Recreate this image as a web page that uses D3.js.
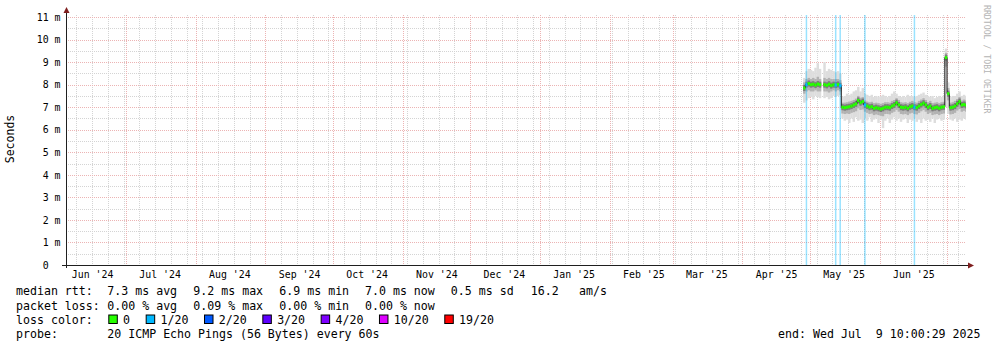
<!DOCTYPE html>
<html>
<head>
<meta charset="utf-8">
<script src="https://cdn.jsdelivr.net/npm/d3@7"></script>
<style>
  body { margin: 0; background: #fff; }
  text { white-space: pre; }
</style>
</head>
<body>
<div id="chart"></div>
<script>
// graph window: smokeping "last 400 days"
var endTime = new Date(Date.UTC(2025, 6, 9, 10, 0, 29));
var spanDays = 400;
var firstDay = "2025-04-28";

// one value per day from Apr 28 2025, in ms
var median = [
  7.85, 8.0, 8.05, 8.0, 8.02, 7.98, 8.03, 8.0, null, 8.0, 7.97, 8.02, 7.96, 8.0, 7.98, 8.01, 7.95,
  7.0, 6.98, 7.0, 7.02, 7.05, 7.1, 7.15, 7.3,
  7.2, 7.25, 7.1, 7.05, 7.0, 7.02, 6.95, 6.98,
  6.95, 6.92, 6.95, 7.0, 7.0, 6.98, 7.05, 7.1,
  7.2, 7.1, 7.0, 6.98, 7.0, 6.95, 7.02, 7.05,
  7.0, 6.98, 7.05, 7.12, 7.18, 7.1, 7.0, 7.05,
  6.95, 6.98, 7.0, 6.95, 7.0, 7.02, 9.2, 7.6,
  6.98, 7.0, 7.05, 7.15, 7.25, 7.1, 7.12, 7.08
];
var smokeHi = [
  8.3, 8.6, 8.7, 8.65, 8.6, 8.75, 8.95, 8.7, null, 9.0, 8.6, 8.7, 8.65, 8.6, 8.55, 8.6, 8.5,
  7.45, 7.5, 7.6, 7.55, 7.6, 7.7, 7.75, 7.9,
  7.7, 7.85, 7.6, 7.55, 7.5, 7.55, 7.45, 7.5,
  7.45, 7.5, 7.55, 7.5, 7.45, 7.5, 7.6, 7.7,
  7.6, 7.5, 7.45, 7.5, 7.45, 7.55, 7.5, 7.5,
  7.45, 7.5, 7.55, 7.6, 7.65, 7.55, 7.5, 7.45,
  7.5, 7.4, 7.45, 7.5, 7.45, 7.5, 9.6, 8.1,
  7.45, 7.5, 7.5, 7.6, 7.7, 7.5, 7.55, 7.5
];
var smokeLo = [
  7.2, 7.3, 7.4, 7.45, 7.35, 7.5, 7.45, 7.4, null, 7.4, 7.45, 7.35, 7.4, 7.5, 7.45, 7.5, 7.55,
  6.5, 6.4, 6.45, 6.3, 6.5, 6.35, 6.55, 6.4,
  6.45, 6.3, 6.5, 6.4, 6.55, 6.35, 6.45, 6.5,
  6.3, 6.45, 6.07, 6.4, 6.5, 6.3, 6.45, 6.55,
  6.4, 6.5, 6.35, 6.45, 6.5, 6.3, 6.45, 6.4,
  6.5, 6.35, 6.45, 6.3, 6.5, 6.4, 6.45, 6.35,
  6.5, 6.3, 6.45, 6.5, 6.4, 6.45, 7.0, 6.7,
  6.45, 6.4, 6.5, 6.35, 6.45, 6.4, 6.5, 6.45
];
var coreHi = [
  8.1, 8.25, 8.3, 8.25, 8.3, 8.25, 8.35, 8.25, null, 8.3, 8.25, 8.3, 8.25, 8.25, 8.25, 8.25, 8.2,
  7.2, 7.2, 7.22, 7.25, 7.28, 7.32, 7.38, 7.5,
  7.42, 7.45, 7.3, 7.25, 7.22, 7.24, 7.18, 7.2,
  7.18, 7.15, 7.18, 7.22, 7.22, 7.2, 7.28, 7.32,
  7.4, 7.32, 7.22, 7.2, 7.22, 7.18, 7.24, 7.28,
  7.22, 7.2, 7.28, 7.34, 7.4, 7.32, 7.22, 7.28,
  7.18, 7.2, 7.22, 7.18, 7.22, 7.24, 9.4, 7.85,
  7.2, 7.22, 7.28, 7.36, 7.45, 7.3, 7.34, 7.3
];
var coreLo = [
  7.6, 7.7, 7.75, 7.7, 7.7, 7.75, 7.7, 7.7, null, 7.7, 7.7, 7.65, 7.7, 7.75, 7.7, 7.75, 7.7,
  6.72, 6.7, 6.72, 6.7, 6.75, 6.78, 6.82, 6.95,
  6.88, 6.9, 6.8, 6.75, 6.7, 6.72, 6.65, 6.68,
  6.65, 6.62, 6.6, 6.7, 6.7, 6.68, 6.75, 6.8,
  6.88, 6.8, 6.7, 6.68, 6.7, 6.65, 6.72, 6.75,
  6.7, 6.68, 6.75, 6.82, 6.88, 6.8, 6.7, 6.75,
  6.65, 6.68, 6.7, 6.65, 6.7, 6.72, 8.8, 7.3,
  6.68, 6.7, 6.75, 6.85, 6.92, 6.8, 6.84, 6.8
];
// days with 1/20 packet loss
var lossDays = ["2025-04-29", "2025-05-12", "2025-05-14", "2025-05-25", "2025-06-16"];

var yTickValues = [0, 1, 2, 3, 4, 5, 6, 7, 8, 9, 10, 11];
var yTickLabels = ["0  ", "1 m", "2 m", "3 m", "4 m", "5 m", "6 m", "7 m", "8 m", "9 m", "10 m", "11 m"];
var monthLabels = ["Jun '24", "Jul '24", "Aug '24", "Sep '24", "Oct '24", "Nov '24", "Dec '24",
                   "Jan '25", "Feb '25", "Mar '25", "Apr '25", "May '25", "Jun '25"];

var lossLabels = ["0", "1/20", "2/20", "3/20", "4/20", "10/20", "19/20"];
var lossColors = ["#26ff00", "#00b8ff", "#0059ff", "#5e00ff", "#7e00ff", "#dd00ff", "#ff0000"];

var rttStats = ["7.3 ms avg", "9.2 ms max", "6.9 ms min", "7.0 ms now", "0.5 ms sd"];
var amsValue = "16.2";
var lossStats = ["0.00 % avg", "0.09 % max", "0.00 % min", "0.00 % now"];
var probeText = "20 ICMP Echo Pings (56 Bytes) every 60s";
var endText = "end: Wed Jul  9 10:00:29 2025";

// layout
var W = 997, H = 347;
var plot = {left: 66, right: 966, top: 15, bottom: 265};
var mono = "DejaVu Sans Mono";

var svg = d3.select("#chart")
  .append("svg")
    .attr("width", W)
    .attr("height", H)
    .style("display", "block");

svg.append("rect").attr("width", W).attr("height", H).attr("fill", "#fff");

var startTime = d3.utcDay.offset(endTime, -spanDays);
var x = d3.scaleUtc().domain([startTime, endTime]).range([plot.left, plot.right]);
var y = d3.scaleLinear().domain([0, 11.09]).range([plot.bottom, plot.top]);

var parseDay = d3.utcParse("%Y-%m-%d");
var fmtDay = d3.utcFormat("%Y-%m-%d");
var day0 = parseDay(firstDay);
var rows = median.map(function(m, i) {
  var t = d3.utcDay.offset(day0, i);
  return {
    t: t, t1: d3.utcDay.offset(t, 1), med: m,
    hi: smokeHi[i], lo: smokeLo[i], chi: coreHi[i], clo: coreLo[i],
    loss: lossDays.indexOf(fmtDay(t)) >= 0 ? 1 : 0
  };
});

// grid
var grid = svg.append("g").attr("shape-rendering", "crispEdges").attr("stroke-dasharray", "1,1");
var minorY = d3.range(0.5, 11.09, 1);
grid.selectAll(".hmin").data(minorY).join("line")
  .attr("x1", plot.left).attr("x2", plot.right)
  .attr("y1", function(d) { return Math.round(y(d)) + 0.5; })
  .attr("y2", function(d) { return Math.round(y(d)) + 0.5; })
  .attr("stroke", "#d4d4d4");
grid.selectAll(".vmin").data(d3.utcSunday.range(startTime, endTime)).join("line")
  .attr("x1", function(d) { return Math.round(x(d)) + 0.5; })
  .attr("x2", function(d) { return Math.round(x(d)) + 0.5; })
  .attr("y1", plot.top).attr("y2", plot.bottom)
  .attr("stroke", "#d4d4d4");
grid.selectAll(".hmaj").data(yTickValues.slice(1)).join("line")
  .attr("x1", plot.left).attr("x2", plot.right)
  .attr("y1", function(d) { return Math.round(y(d)) + 0.5; })
  .attr("y2", function(d) { return Math.round(y(d)) + 0.5; })
  .attr("stroke", "#ecb4b4");
grid.selectAll(".vmaj").data(d3.utcMonth.range(startTime, endTime)).join("line")
  .attr("x1", function(d) { return Math.round(x(d)) + 0.5; })
  .attr("x2", function(d) { return Math.round(x(d)) + 0.5; })
  .attr("y1", plot.top).attr("y2", plot.bottom)
  .attr("stroke", "#ecb4b4");

// data area
svg.append("clipPath").attr("id", "clip")
  .append("rect").attr("x", plot.left).attr("y", plot.top)
  .attr("width", plot.right - plot.left).attr("height", plot.bottom - plot.top);
var area = svg.append("g").attr("clip-path", "url(#clip)");
var have = rows.filter(function(d) { return d.med != null; });
function colW(d) { return x(d.t1) - x(d.t) + 0.2; }

area.selectAll(".smoke").data(have).join("rect")
  .attr("x", function(d) { return x(d.t); }).attr("width", colW)
  .attr("y", function(d) { return y(d.hi); })
  .attr("height", function(d) { return y(d.lo) - y(d.hi); })
  .attr("fill", "#dddddd");
area.selectAll(".core").data(have).join("rect")
  .attr("x", function(d) { return x(d.t); }).attr("width", colW)
  .attr("y", function(d) { return y(d.chi); })
  .attr("height", function(d) { return y(d.clo) - y(d.chi); })
  .attr("fill", "#b2b2b2");
area.selectAll(".dark").data(have).join("rect")
  .attr("x", function(d) { return x(d.t); }).attr("width", colW)
  .attr("y", function(d) { return y(d.med) - 3; })
  .attr("height", 6)
  .attr("fill", "#7c7c7c");

// loss background stripes
area.selectAll(".lossbg").data(rows.filter(function(d) { return d.loss > 0; })).join("rect")
  .attr("x", function(d) { return (x(d.t) + x(d.t1)) / 2 - 0.75; })
  .attr("width", 1.5)
  .attr("y", plot.top).attr("height", plot.bottom - plot.top)
  .attr("fill", function(d) { return lossColors[d.loss]; })
  .attr("opacity", 0.4);

// median line
var lineRows = rows.concat([{t: endTime, med: rows[rows.length - 1].med}]);
area.append("path")
  .datum(lineRows)
  .attr("fill", "none")
  .attr("stroke", "#202020")
  .attr("stroke-width", 1)
  .attr("d", d3.line()
    .defined(function(d) { return d.med != null; })
    .curve(d3.curveStepAfter)
    .x(function(d) { return x(d.t); })
    .y(function(d) { return y(d.med); }));
area.selectAll(".med").data(have).join("rect")
  .attr("x", function(d) { return x(d.t); }).attr("width", colW)
  .attr("y", function(d) { return y(d.med) - 1.5; })
  .attr("height", 3)
  .attr("fill", function(d) { return lossColors[d.loss]; });

// axes
var labelDates = monthLabels.map(function(m, i) {
  return d3.utcDay.offset(d3.utcMonth.offset(new Date(Date.UTC(2024, 5, 1)), i), 15);
});
var gx = svg.append("g")
  .attr("transform", "translate(0," + plot.bottom + ")")
  .call(d3.axisBottom(x).tickValues(labelDates)
    .tickFormat(function(d, i) { return monthLabels[i]; })
    .tickSize(0).tickPadding(5.5));
gx.select(".domain").remove();
gx.attr("font-family", mono).attr("font-size", 9.9);
gx.selectAll("text").attr("fill", "#000");

var gy = svg.append("g")
  .attr("transform", "translate(" + (plot.left + 0.5) + ",0)")
  .call(d3.axisLeft(y).tickValues(yTickValues)
    .tickFormat(function(d, i) { return yTickLabels[i]; })
    .tickSize(0).tickPadding(6));
gy.select(".domain").remove();
gy.attr("font-family", mono).attr("font-size", 9.9);
gy.selectAll("text").attr("fill", "#000");

svg.append("line")
  .attr("x1", plot.left - 4).attr("x2", plot.right + 3)
  .attr("y1", plot.bottom + 0.5).attr("y2", plot.bottom + 0.5)
  .attr("stroke", "#1f1f1f");
svg.append("line")
  .attr("x1", plot.left + 0.5).attr("x2", plot.left + 0.5)
  .attr("y1", plot.bottom + 3).attr("y2", plot.top - 3)
  .attr("stroke", "#1f1f1f");
svg.append("path")
  .attr("d", "M" + (plot.left + 0.5) + "," + (plot.top - 8) + "l-3,6h6z")
  .attr("fill", "#7f1f1f");
svg.append("path")
  .attr("d", "M" + (plot.right + 8) + "," + (plot.bottom + 0.5) + "l-6,-3v6z")
  .attr("fill", "#7f1f1f");

// titles
svg.append("text")
  .attr("transform", "translate(14,139) rotate(-90)")
  .attr("text-anchor", "middle")
  .attr("font-family", mono).attr("font-size", 11.5)
  .text("Seconds");
svg.append("text")
  .attr("transform", "translate(984,5) rotate(90)")
  .attr("font-family", mono).attr("font-size", 8.2)
  .attr("fill", "#b4b4b4")
  .text("RRDTOOL / TOBI OETIKER");

// legend
var leg = svg.append("g").attr("font-family", mono).attr("font-size", 11.6).attr("fill", "#000");
var cols = [107.3, 193.3, 279.3, 365, 450.8];
var rowY = [295, 309.5, 323.5, 337.5];

leg.append("text").attr("x", 16).attr("y", rowY[0]).text("median rtt:");
rttStats.forEach(function(s, i) { leg.append("text").attr("x", cols[i]).attr("y", rowY[0]).text(s); });
leg.append("text").attr("x", 530.7).attr("y", rowY[0]).text(amsValue);
leg.append("text").attr("x", 579).attr("y", rowY[0]).text("am/s");

leg.append("text").attr("x", 16).attr("y", rowY[1]).text("packet loss:");
lossStats.forEach(function(s, i) { leg.append("text").attr("x", cols[i]).attr("y", rowY[1]).text(s); });

leg.append("text").attr("x", 16).attr("y", rowY[2]).text("loss color:");
var bx = 108.3;
lossLabels.forEach(function(l, i) {
  leg.append("rect")
    .attr("x", bx + 0.5).attr("y", rowY[2] - 8.5)
    .attr("width", 8.5).attr("height", 8.5)
    .attr("fill", lossColors[i]).attr("stroke", "#000").attr("stroke-width", 1);
  var t = leg.append("text").attr("x", bx + 14.8).attr("y", rowY[2]).text(l);
  bx = bx + 14.8 + t.node().getComputedTextLength() + 15.6;
});

leg.append("text").attr("x", 16).attr("y", rowY[3]).text("probe:");
leg.append("text").attr("x", cols[0]).attr("y", rowY[3]).text(probeText);
leg.append("text").attr("x", 980.5).attr("y", rowY[3]).attr("text-anchor", "end").text(endText);
</script>
</body>
</html>
